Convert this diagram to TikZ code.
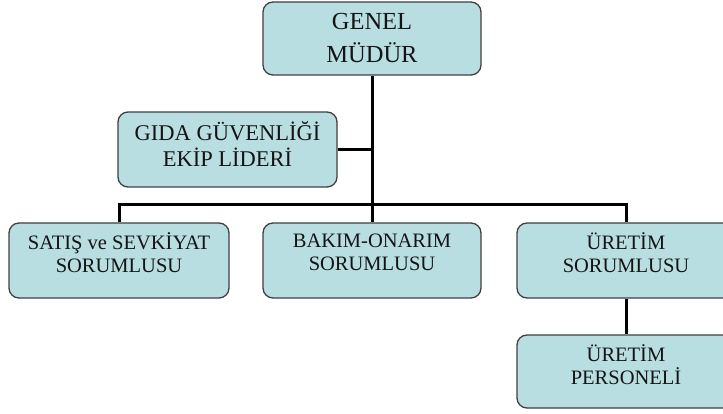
\documentclass[tikz,border=0pt]{standalone}
\usepackage{fontspec}
\setmainfont{Liberation Serif}
\definecolor{boxfill}{RGB}{184,222,226}
\definecolor{boxline}{RGB}{64,64,64}
\begin{document}
\begin{tikzpicture}[x=1pt,y=-1pt,
  box/.style={draw=boxline, line width=1.3pt, fill=boxfill, rounded corners=10pt,
    minimum width=218pt, minimum height=75pt, inner sep=0pt},
  lbl/.style={align=center, font=\fontsize{20.5}{23}\selectfont, text=black!92},
  conn/.style={draw=black, line width=3pt}]
\path[use as bounding box] (0,0) rectangle (723,414);
\clip (0,0) rectangle (723,414);
\fill[white] (0,0) rectangle (723,414);
% boxes
\node[box, minimum height=73pt, align=center, font=\fontsize{24.5}{33}\selectfont, text=black!92] (gm) at (372,38.5) {GENEL\\MÜDÜR};
\node[box, minimum width=219pt, label={[lbl, font=\fontsize{22.5}{26}\selectfont, yshift=5pt]center:{GIDA GÜVENLİĞİ\\EKİP LİDERİ}}] (gida) at (227.5,149.5) {};
\node[box, minimum width=220pt, label={[lbl, yshift=8pt]center:{SATIŞ ve SEVKİYAT\\SORUMLUSU}}] (sat) at (119,260.5) {};
\node[box, label={[lbl, yshift=8pt]center:{BAKIM-ONARIM\\SORUMLUSU}}] (bak) at (372,260.5) {};
\node[box, label={[lbl, yshift=8pt]center:{ÜRETİM\\SORUMLUSU}}] (ur) at (626,260.5) {};
\node[box, minimum height=73pt, label={[lbl, yshift=7pt]center:{ÜRETİM\\PERSONELİ}}] (up) at (626,371.5) {};
% connectors
\coordinate (bar) at (372,205);
\draw[conn] (gm.south) -- (gm.south |- bar);
\draw[conn] (sat.north) |- (ur.north |- bar) -- (ur.north);
\draw[conn] (bak.north) -- (bak.north |- bar);
\draw[conn] (gida.east) -- (gida.east -| gm.south);
\draw[conn] (ur.south) -- (up.north);
\end{tikzpicture}
\end{document}
